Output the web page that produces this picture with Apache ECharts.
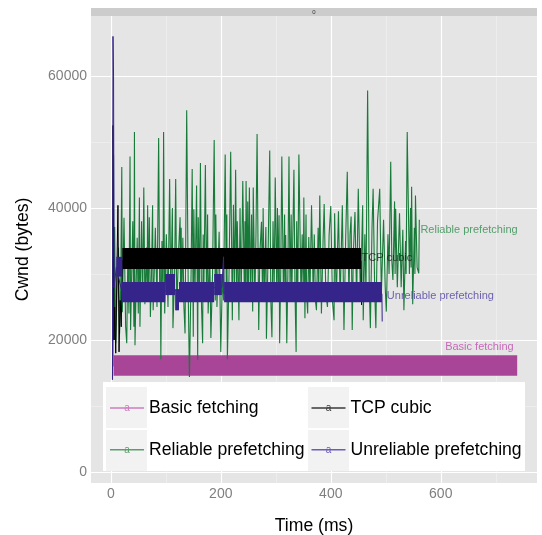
<!DOCTYPE html>
<html>
<head>
<meta charset="utf-8">
<script src="https://cdn.jsdelivr.net/npm/echarts@6/dist/echarts.min.js"></script>
<style>html,body{margin:0;padding:0;background:#fff}#c{width:542px;height:535px}</style>
</head>
<body>
<div id="c"></div>
<script>
// ---------- data ----------
const seriesNames = ['Basic fetching', 'TCP cubic', 'Reliable prefetching', 'Unreliable prefetching'];
const facetLabel = '0';
const xTicks = [0, 200, 400, 600];
const xMinor = [100, 300, 500, 700];
const yTicks = [0, 20000, 40000, 60000];
const yMinor = [10000, 30000, 50000];

// dense oscillation bands: [tStart, tEnd, low, high]
const basicBands = [[5, 739, 14600, 17700]];
const tcpBands = [[21, 455, 30760, 33940]];
const unrelBands = [
  [10, 21, 29600, 32600], [20, 99, 25700, 28800], [99, 117, 26800, 30000],
  [117, 124, 24500, 27700], [124, 188, 25700, 28800], [188, 202, 26800, 30000],
  [206, 493, 25700, 28800]
];
// sparse parts: [time ms, cwnd bytes]
const tcpLine = [[3, 14000], [4, 52500], [6, 20000], [7, 25000], [9, 18000], [11, 30000], [13, 40400],
  [15, 18200], [17, 26000], [19, 22000], [21, 32000], [455, 32000], [456, 25300]];
const unrelLine = [[3, 14000], [4, 66000], [5, 60000], [6, 28000], [10, 31000], [21, 27000],
  [202, 28000], [205, 32600], [206, 27000], [493, 27000], [493.5, 22800]];
const reliableLine = [
  [4,16000],[5,48000],[6,20000],[7,37100],[9,19500],[12,30000],[14,34000],[16,21000],[18,28000],[20,46200],
  [21,24200],[24,38500],[27,22000],[29,19500],[31,33000],[33,24000],[35,47800],[36,21500],[38,30000],[40,38000],
  [42,22000],[43,51500],[44,19200],[46,28000],[48,35500],[50,24000],[52,41600],[53,22000],[56,38000],[58,26000],
  [60,43100],[62,25400],[65,34000],[66,27000],[67,40400],[68,26000],[70,38600],[72,23500],[74,30000],[76,40400],
  [77,24500],[79,30000],[81,37000],[84,25000],[87,50600],[89,26000],[90,31000],[91,17100],[93,35000],[95,27000],
  [96,51500],[98,24000],[101,36000],[104,25000],[107,44400],[109,27000],[112,40000],[113,21800],[116,30000],[118,44400],
  [120,24500],[123,33000],[126,38600],[127,26000],[128,37000],[129,26000],[131,35500],[133,25000],[135,21000],[138,54800],
  [141,26000],[143,14400],[146,30000],[148,45900],[150,20500],[151,39800],[153,27000],[156,43400],[158,17000],[159,38600],
  [161,27000],[163,46800],[165,25000],[167,19500],[168,36000],[169,26000],[172,46500],[174,27000],[176,39000],[177,24000],
  [180,33000],[182,20300],[185,30000],[188,50300],[190,26000],[191,39000],[193,25000],[197,36400],[200,18200],[203,30000],
  [205,26000],[208,48100],[210,28000],[211,39000],[212,17100],[215,30000],[218,48500],[221,23000],[223,40500],[225,27000],
  [227,45800],[229,26000],[230,38000],[233,23000],[235,40000],[237,26000],[240,44100],[243,26000],[244,38000],[245,27000],
  [246,44100],[248,26000],[249,41000],[250,26000],[252,43100],[254,26000],[256,39000],[258,24300],[259,43100],[262,26000],
  [264,36000],[266,51200],[269,21500],[271,33000],[274,37900],[276,26000],[277,40000],[279,26000],[282,37100],[283,20200],
  [286,33000],[289,48700],[291,26000],[293,20400],[295,38000],[297,27000],[299,44600],[302,26000],[303,40000],[305,27000],
  [306,38900],[307,19500],[309,30000],[311,47800],[314,26000],[316,39000],[317,27000],[318,35900],[320,19500],[322,30000],
  [324,47800],[326,27000],[328,39000],[329,26000],[333,45800],[335,27000],[337,18200],[338,38000],[340,27000],[342,48100],
  [346,26000],[348,36000],[350,27000],[351,41600],[353,23300],[355,39000],[356,27000],[358,24000],[360,35600],[362,26000],
  [365,40400],[368,27000],[370,36000],[372,26000],[374,24500],[377,37000],[378,27000],[380,41900],[383,24000],[386,35000],
  [388,40600],[391,27000],[394,25000],[397,36000],[400,40300],[403,26000],[406,23000],[407,39200],[410,26000],[414,39500],
  [417,26000],[421,40400],[424,21500],[427,35000],[430,45500],[433,26000],[435,36000],[437,38700],[439,21500],[441,33000],
  [444,39400],[447,26000],[450,42900],[454,26000],[458,40400],[459,23000],[462,36000],[464,27000],[467,57800],[470,28000],
  [472,21800],[475,37000],[477,42900],[480,27000],[482,21800],[485,38000],[489,42900],[492,27000],[496,38200],[499,28000],
  [501,24300],[504,36000],[506,30000],[509,47000],[511,32000],[513,29100],[516,41000],[517,30000],[518,39900],[521,28000],
  [525,39200],[528,28000],[531,36700],[533,24500],[536,35000],[537,30000],[539,51500],[543,30000],[545,40000],[546,31000],
  [547,43200],[549,25400],[552,37000],[553,30000],[554,41900],[557,31000],[560,30100],[561,38200]
];
// direct labels
const labelText = ['Reliable prefetching', 'TCP cubic', 'Unreliable prefetching', 'Basic fetching'];
const labelX = [563, 456, 502, 608];
const labelY = [36700, 32400, 26700, 18900];

// ---------- styles ----------
const FONT = 'Liberation Sans, Arial, Helvetica, sans-serif';
const col = {
  'Basic fetching': '#a84596',
  'TCP cubic': '#000000',
  'Reliable prefetching': '#177a38',
  'Unreliable prefetching': '#35248a'
};
const legendCol = {
  'Basic fetching': '#cc7cc2',
  'TCP cubic': '#3a3a3a',
  'Reliable prefetching': '#5a9e6e',
  'Unreliable prefetching': '#6a5cb8'
};
const labelCol = ['#2f8c4c', '#1a1a1a', '#4d3da0', '#c04aae'];

function bandRender(color) {
  return function (params, api) {
    const p0 = api.coord([api.value(0), api.value(3)]);
    const p1 = api.coord([api.value(1), api.value(2)]);
    return {
      type: 'rect',
      shape: { x: p0[0], y: p0[1], width: p1[0] - p0[0], height: p1[1] - p0[1] },
      style: { fill: color }
    };
  };
}

const chart = echarts.init(document.getElementById('c'), null, { renderer: 'canvas' });

const gridLines = [];
yMinor.forEach(v => gridLines.push({ yAxis: v, lineStyle: { color: '#f2f2f2', width: 0.6, type: 'solid' } }));
xMinor.forEach(v => gridLines.push({ xAxis: v, lineStyle: { color: '#f2f2f2', width: 0.6, type: 'solid' } }));
yTicks.forEach(v => gridLines.push({ yAxis: v, lineStyle: { color: '#ffffff', width: 1.2, type: 'solid' } }));
xTicks.forEach(v => gridLines.push({ xAxis: v, lineStyle: { color: '#ffffff', width: 1.2, type: 'solid' } }));

const gX = 91, gY = 16, gW = 446, gH = 467;
const plainNum = v => String(v);

chart.setOption({
  animation: false,
  textStyle: { fontFamily: FONT },
  grid: {
    left: gX, top: gY, width: gW, height: gH, show: true, backgroundColor: '#e5e5e5', borderWidth: 0,
    containLabel: false, outerBoundsMode: 'none'
  },
  xAxis: {
    type: 'value', min: -36, max: 775,
    name: 'Time (ms)', nameLocation: 'middle', nameGap: 34,
    nameTextStyle: { fontSize: 17.6, color: '#000', fontFamily: FONT },
    axisLine: { show: false },
    axisTick: { show: true, length: 3.5, lineStyle: { color: '#7f7f7f' }, customValues: xTicks },
    axisLabel: { color: '#7f7f7f', fontSize: 14, margin: 4, customValues: xTicks, formatter: plainNum, fontFamily: FONT },
    splitLine: { show: false }
  },
  yAxis: {
    type: 'value', min: -1665, max: 69085,
    name: 'Cwnd (bytes)', nameLocation: 'middle', nameGap: 59,
    nameTextStyle: { fontSize: 17.6, color: '#000', fontFamily: FONT },
    axisLine: { show: false },
    axisTick: { show: true, length: 3.5, lineStyle: { color: '#7f7f7f' }, customValues: yTicks },
    axisLabel: { color: '#7f7f7f', fontSize: 14, margin: 4, customValues: yTicks, formatter: plainNum, fontFamily: FONT },
    splitLine: { show: false }
  },
  legend: [
    {
      orient: 'vertical', left: 110, top: 398, padding: 0, itemGap: 21.7,
      itemWidth: 34, itemHeight: 1.4, icon: 'rect', selectedMode: false, z: 20,
      textStyle: { fontSize: 17.6, color: '#000', lineHeight: 20, fontFamily: FONT },
      data: ['Basic fetching', 'Reliable prefetching'].map(n => ({ name: n, itemStyle: { color: legendCol[n] } }))
    },
    {
      orient: 'vertical', left: 311.5, top: 398, padding: 0, itemGap: 21.7,
      itemWidth: 34, itemHeight: 1.4, icon: 'rect', selectedMode: false, z: 20,
      textStyle: { fontSize: 17.6, color: '#000', lineHeight: 20, fontFamily: FONT },
      data: ['TCP cubic', 'Unreliable prefetching'].map(n => ({ name: n, itemStyle: { color: legendCol[n] } }))
    }
  ],
  graphic: [
    { type: 'rect', z: 10, shape: { x: gX, y: 8, width: gW, height: 8 }, style: { fill: '#cccccc' } },
    { type: 'text', z: 11, x: gX + gW / 2, y: 12, style: { text: facetLabel, fontSize: 6, fill: '#333', align: 'center', verticalAlign: 'middle', fontFamily: FONT } },
    { type: 'rect', z: 10, shape: { x: 103, y: 382, width: 422, height: 89 }, style: { fill: '#ffffff' } },
    { type: 'rect', z: 11, shape: { x: 106, y: 387, width: 41, height: 41 }, style: { fill: '#f2f2f2' } },
    { type: 'rect', z: 11, shape: { x: 106, y: 430, width: 41, height: 41 }, style: { fill: '#f2f2f2' } },
    { type: 'rect', z: 11, shape: { x: 308, y: 387, width: 41, height: 41 }, style: { fill: '#f2f2f2' } },
    { type: 'rect', z: 11, shape: { x: 308, y: 430, width: 41, height: 41 }, style: { fill: '#f2f2f2' } },
    { type: 'text', z: 30, x: 127, y: 408, style: { text: 'a', fontSize: 10, fill: legendCol['Basic fetching'], align: 'center', verticalAlign: 'middle', fontFamily: FONT } },
    { type: 'text', z: 30, x: 127, y: 450, style: { text: 'a', fontSize: 10, fill: legendCol['Reliable prefetching'], align: 'center', verticalAlign: 'middle', fontFamily: FONT } },
    { type: 'text', z: 30, x: 328.5, y: 408, style: { text: 'a', fontSize: 10, fill: legendCol['TCP cubic'], align: 'center', verticalAlign: 'middle', fontFamily: FONT } },
    { type: 'text', z: 30, x: 328.5, y: 450, style: { text: 'a', fontSize: 10, fill: legendCol['Unreliable prefetching'], align: 'center', verticalAlign: 'middle', fontFamily: FONT } }
  ],
  series: [
    {
      type: 'line', name: '_grid', data: [], z: 1, silent: true,
      markLine: { z: 1, silent: true, symbol: 'none', label: { show: false }, animation: false, data: gridLines }
    },
    {
      type: 'custom', name: 'Basic fetching', z: 2, data: basicBands,
      encode: { x: [0, 1], y: [2, 3] }, renderItem: bandRender(col['Basic fetching']),
      itemStyle: { color: col['Basic fetching'] }
    },
    {
      type: 'line', name: 'Reliable prefetching', z: 3, data: reliableLine, showSymbol: false, symbol: 'none',
      lineStyle: { color: col['Reliable prefetching'], width: 1.1 }, itemStyle: { color: col['Reliable prefetching'] }
    },
    {
      type: 'line', name: 'TCP cubic', z: 4, data: tcpLine, showSymbol: false, symbol: 'none',
      lineStyle: { color: col['TCP cubic'], width: 1 }, itemStyle: { color: col['TCP cubic'] }
    },
    {
      type: 'custom', name: 'TCP cubic', z: 5, data: tcpBands,
      encode: { x: [0, 1], y: [2, 3] }, renderItem: bandRender(col['TCP cubic'])
    },
    {
      type: 'line', name: 'Unreliable prefetching', z: 6, data: unrelLine, showSymbol: false, symbol: 'none',
      lineStyle: { color: col['Unreliable prefetching'], width: 1 }, itemStyle: { color: col['Unreliable prefetching'] }
    },
    {
      type: 'custom', name: 'Unreliable prefetching', z: 7, data: unrelBands,
      encode: { x: [0, 1], y: [2, 3] }, renderItem: bandRender(col['Unreliable prefetching'])
    },
    {
      type: 'scatter', name: '_labels', z: 8, symbolSize: 0, silent: true,
      data: labelX.map((x, i) => ({
        value: [x, labelY[i]],
        label: { show: true, position: 'right', distance: 0, formatter: labelText[i], color: labelCol[i], fontSize: 11, fontFamily: FONT }
      }))
    }
  ]
});
</script>
</body>
</html>
